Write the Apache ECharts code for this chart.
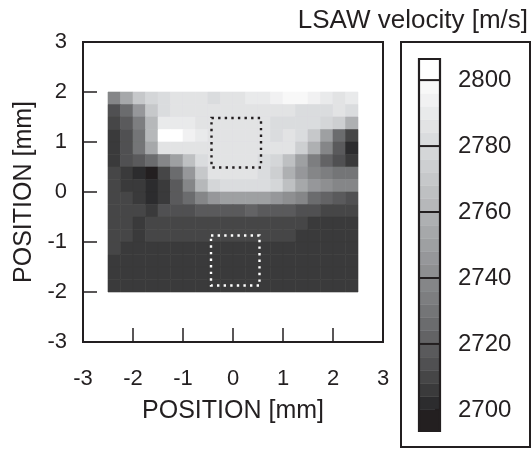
<!DOCTYPE html>
<html><head><meta charset="utf-8">
<script src="https://cdn.jsdelivr.net/npm/echarts@6/dist/echarts.min.js"></script>
<style>html,body{margin:0;padding:0;background:#fff}#c{width:532px;height:450px}</style>
</head><body><div id="c"></div>
<script>
// ---- data ----
const xCenters = [-2.375,-2.125,-1.875,-1.625,-1.375,-1.125,-0.875,-0.625,-0.375,-0.125,0.125,0.375,0.625,0.875,1.125,1.375,1.625,1.875,2.125,2.375];
const yCenters = [1.875,1.625,1.375,1.125,0.875,0.625,0.375,0.125,-0.125,-0.375,-0.625,-0.875,-1.125,-1.375,-1.625,-1.875];
const velocity = [
 [2736,2752,2768,2777,2782,2784,2785,2784,2783,2784,2786,2788,2790,2795,2798,2797,2793,2789,2787,2788],
 [2712,2726,2746,2768,2780,2784,2785,2784,2785,2786,2787,2787,2787,2786,2784,2783,2782,2783,2784,2781],
 [2708,2716,2735,2760,2788,2790,2789,2787,2786,2786,2786,2786,2785,2783,2782,2781,2780,2778,2772,2756],
 [2707,2712,2730,2760,2802,2801,2793,2788,2786,2786,2786,2785,2784,2783,2784,2780,2768,2748,2726,2708],
 [2707,2714,2728,2752,2784,2786,2786,2785,2786,2786,2786,2786,2785,2785,2784,2772,2756,2736,2716,2702],
 [2707,2712,2718,2726,2736,2748,2766,2782,2785,2785,2785,2784,2782,2776,2764,2750,2734,2720,2712,2705],
 [2708,2705,2702,2699,2708,2725,2745,2768,2784,2785,2785,2784,2781,2772,2758,2744,2736,2732,2730,2728],
 [2708,2706,2704,2702,2707,2718,2736,2760,2778,2782,2782,2782,2780,2776,2766,2754,2746,2740,2738,2736],
 [2708,2708,2705,2702,2707,2716,2727,2738,2746,2750,2750,2748,2748,2746,2742,2736,2726,2720,2716,2714],
 [2711,2711,2708,2706,2712,2714,2715,2716,2717,2718,2719,2720,2719,2718,2717,2715,2713,2711,2710,2709],
 [2710,2709,2707,2708,2710,2710,2710,2710,2710,2710,2710,2710,2710,2710,2710,2709,2707,2706,2706,2706],
 [2710,2709,2706,2709,2709,2709,2709,2709,2709,2709,2709,2709,2709,2709,2709,2706,2706,2706,2706,2706],
 [2709,2706,2706,2706,2706,2706,2706,2706,2706,2706,2706,2706,2706,2706,2706,2706,2706,2706,2706,2706],
 [2706,2706,2706,2706,2706,2706,2706,2706,2706,2706,2706,2706,2706,2706,2706,2706,2706,2706,2706,2706],
 [2706,2706,2706,2706,2706,2706,2706,2706,2706,2706,2706,2706,2706,2706,2706,2706,2706,2706,2706,2706],
 [2706,2706,2706,2706,2706,2706,2706,2706,2706,2706,2706,2706,2706,2706,2706,2706,2706,2706,2706,2706]
];
const bandEdges = [2700,2704,2708,2712,2716,2720,2724,2728,2732,2736,2740,2744,2748,2752,2756,2760,2764,2768,2772,2776,2780,2784,2788,2792,2796,2800];
const bandColors = ['#231f20','#2c2c2e','#3a3a3b','#464647','#505052','#5a5a5c','#636365','#6b6c6e','#747577','#7d7e80','#858688','#8e8f91','#96979a','#9ea0a2','#a6a8aa','#aeb0b2','#b6b8ba','#bec0c2','#c6c8ca','#cdcfd1','#d4d6d8','#dadcde','#e2e3e4','#e9eaeb','#f1f1f2','#f8f8f8','#ffffff'];
const cbTicks = [2700,2720,2740,2760,2780,2800];
const squares = [[-0.43,0.49,0.56,1.48],[-0.44,-1.87,0.53,-0.87]];
const squareColors = ['#231f20','#ffffff'];

// ---- helpers ----
const INK = '#231f20';
const FONT = "'Liberation Sans', Arial, sans-serif";
function colorOf(v){
  if (v < bandEdges[0]) return bandColors[0];
  if (v >= bandEdges[bandEdges.length-1]) return bandColors[bandColors.length-1];
  for (let k=0;k<bandEdges.length-1;k++){ if (v>=bandEdges[k] && v<bandEdges[k+1]) return bandColors[k+1]; }
  return bandColors[bandColors.length-1];
}
const cells = [];
yCenters.forEach((y,j)=>xCenters.forEach((x,i)=>cells.push([x,y,velocity[j][i]])));
const hw = (xCenters[1]-xCenters[0])/2, hh = (yCenters[0]-yCenters[1])/2;

const cbMin = 2693.6, cbMax = 2806.4;
const bands = [[cbMin, bandEdges[0], 0]];
for (let k=0;k<bandEdges.length-1;k++) bands.push([bandEdges[k], bandEdges[k+1], k+1]);
bands.push([bandEdges[bandEdges.length-1], cbMax, bandColors.length-1]);

const chart = echarts.init(document.getElementById('c'), null, {renderer:'canvas'});
chart.setOption({
  animation:false,
  textStyle:{fontFamily:FONT},
  grid:[
    {left:83, top:42, width:300, height:300, show:true, borderColor:INK, borderWidth:2, backgroundColor:'transparent'},
    {left:419, top:59, width:21, height:372, show:false}
  ],
  xAxis:[
    {gridIndex:0, type:'value', min:-3, max:3, interval:1, position:'bottom',
     axisLine:{show:false, onZero:false}, splitLine:{show:false},
     axisTick:{inside:true, length:14, lineStyle:{color:INK, width:1.5}},
     axisLabel:{color:INK, fontSize:22, margin:26, fontFamily:FONT},
     name:'POSITION [mm]', nameLocation:'middle', nameGap:57,
     nameTextStyle:{color:INK, fontSize:25, fontFamily:FONT}},
    {gridIndex:1, type:'value', min:0, max:1, show:false}
  ],
  yAxis:[
    {gridIndex:0, type:'value', min:-3, max:3, interval:1, position:'left',
     axisLine:{show:false, onZero:false}, splitLine:{show:false},
     axisTick:{inside:true, length:14, lineStyle:{color:INK, width:1.5}},
     axisLabel:{color:INK, fontSize:22, margin:16, fontFamily:FONT},
     name:'POSITION [mm]', nameLocation:'middle', nameGap:44,
     nameTextStyle:{color:INK, fontSize:25, fontFamily:FONT}},
    {gridIndex:1, type:'value', min:cbMin, max:cbMax, show:false}
  ],
  graphic:[
    {type:'rect', shape:{x:401, y:42, width:129, height:405}, style:{fill:'none', stroke:INK, lineWidth:2}},
    {type:'text', style:{x:528, y:21, text:'LSAW velocity [m/s]', textAlign:'right', textVerticalAlign:'middle', font:"26px 'Liberation Sans', Arial, sans-serif", fill:INK}}
  ],
  series:[
    {type:'custom', xAxisIndex:0, yAxisIndex:0, data:cells, silent:true,
     renderItem:(p,api)=>{
       const x=api.value(0), y=api.value(1), v=api.value(2);
       const a=api.coord([x-hw,y+hh]), b=api.coord([x+hw,y-hh]);
       const c=colorOf(v);
       return {type:'rect', shape:{x:a[0], y:a[1], width:b[0]-a[0], height:b[1]-a[1]}, style:{fill:c, stroke:c, lineWidth:0.6}};
     }},
    {type:'custom', xAxisIndex:0, yAxisIndex:0, data:squares.map((s,i)=>[...s,i]), silent:true, z:5,
     renderItem:(p,api)=>{
       const a=api.coord([api.value(0),api.value(3)]), b=api.coord([api.value(2),api.value(1)]);
       return {type:'rect', shape:{x:a[0], y:a[1], width:b[0]-a[0], height:b[1]-a[1]},
         style:{fill:'none', stroke:squareColors[api.value(4)], lineWidth:2.4, lineDash:[2.4,4.2]}};
     }},
    {type:'custom', xAxisIndex:1, yAxisIndex:1, data:bands, silent:true,
     renderItem:(p,api)=>{
       const a=api.coord([0,api.value(1)]), b=api.coord([1,api.value(0)]);
       const c=bandColors[api.value(2)];
       return {type:'rect', shape:{x:a[0], y:a[1], width:b[0]-a[0], height:b[1]-a[1]}, style:{fill:c, stroke:c, lineWidth:0.5}};
     }},
    {type:'custom', xAxisIndex:1, yAxisIndex:1, data:[[cbMin,cbMax]], silent:true, z:4,
     renderItem:(p,api)=>{
       const a=api.coord([0,api.value(1)]), b=api.coord([1,api.value(0)]);
       return {type:'rect', shape:{x:a[0], y:a[1], width:b[0]-a[0], height:b[1]-a[1]}, style:{fill:'none', stroke:INK, lineWidth:2.2}};
     }},
    {type:'custom', xAxisIndex:1, yAxisIndex:1, data:cbTicks.map(v=>[v]), silent:true, z:5,
     renderItem:(p,api)=>{
       const v=api.value(0);
       const l=api.coord([0,v]), r=api.coord([1,v]);
       const x0 = (v===cbTicks[0]) ? r[0]-5 : l[0];
       return {type:'group', children:[
         {type:'line', shape:{x1:x0, y1:l[1], x2:r[0]+1, y2:r[1]}, style:{stroke:INK, lineWidth:2}},
         {type:'text', style:{x:r[0]+18, y:r[1], text:String(v), textAlign:'left', textVerticalAlign:'middle', font:"24px 'Liberation Sans', Arial, sans-serif", fill:INK}}
       ]};
     }}
  ]
});
</script></body></html>
